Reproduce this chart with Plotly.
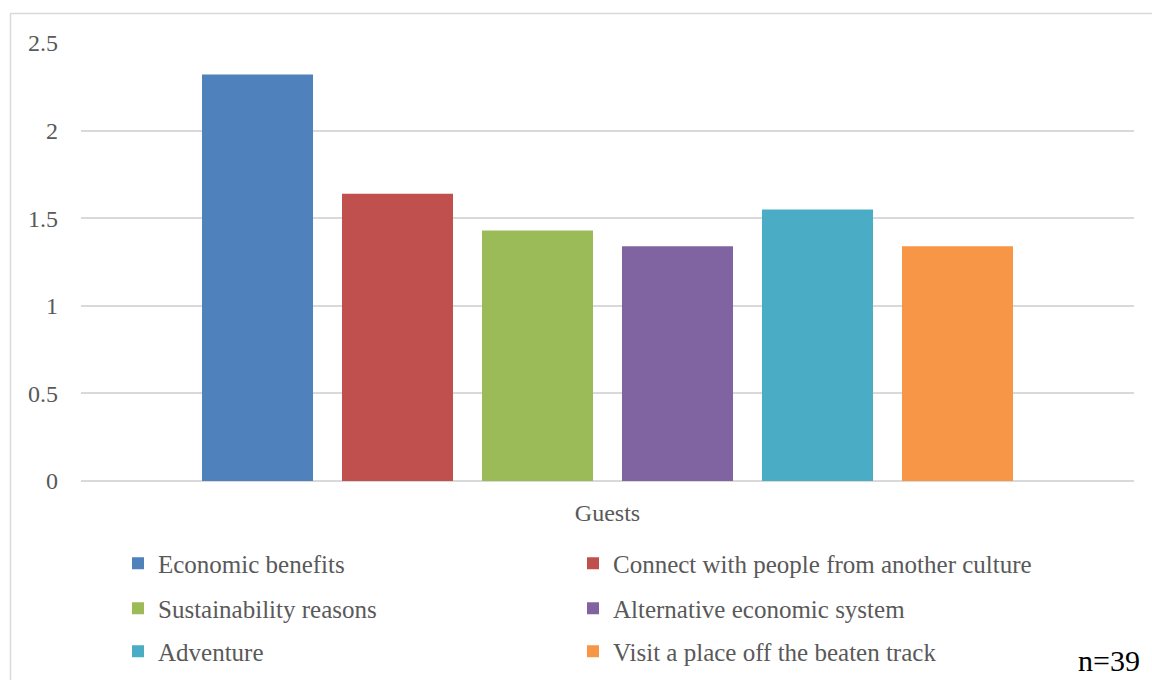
import plotly.graph_objects as go

categories = ["Guests"]
series_names = [
    "Economic benefits",
    "Connect with people from another culture",
    "Sustainability reasons",
    "Alternative economic system",
    "Adventure",
    "Visit a place off the beaten track",
]
series_values = [2.32, 1.64, 1.43, 1.34, 1.55, 1.34]
series_colors = ["#4F81BD", "#C0504D", "#9BBB59", "#8064A2", "#4BACC6", "#F79646"]
y_ticks = [0, 0.5, 1, 1.5, 2, 2.5]
y_tick_labels = ["0", "0.5", "1", "1.5", "2", "2.5"]
note = "n=39"

FONT = "Liberation Serif"
W, H = 1152, 680
L, R, T, B = 81, W - 1134, 43, H - 481

legend_ids = ["legend", "legend2", "legend3", "legend4", "legend5", "legend6"]

fig = go.Figure()
for name, val, col, lg in zip(series_names, series_values, series_colors, legend_ids):
    fig.add_trace(go.Bar(
        x=categories, y=[val], name=name,
        marker=dict(color=col, line=dict(width=0)),
        legend=lg,
    ))

row_y = [563.5, 608.5, 651.5]
col_x = [118, 573]
leg_common = dict(
    orientation="h", xref="container", yref="container",
    xanchor="left", yanchor="middle",
    font=dict(family=FONT, size=25, color="#595959"),
    bgcolor="rgba(0,0,0,0)", borderwidth=0,
)
legend_layout = {}
for i, lg in enumerate(legend_ids):
    r, c = divmod(i, 2)
    legend_layout[lg] = dict(x=col_x[c] / W, y=1 - row_y[r] / H, **leg_common)
fig.update_layout(**legend_layout)

fig.update_layout(
    width=W, height=H,
    margin=dict(l=L, r=R, t=T, b=B, pad=0),
    paper_bgcolor="white", plot_bgcolor="white",
    barmode="group", bargap=0.2023, bargroupgap=0.207,
    showlegend=True,
    font=dict(family=FONT, color="#595959"),
    xaxis=dict(
        showgrid=False, showline=False, zeroline=False, ticks="",
        tickfont=dict(family=FONT, size=24, color="#595959"),
        ticklabelstandoff=15,
    ),
    yaxis=dict(
        range=[0, 2.5], tickvals=y_ticks, ticktext=y_tick_labels,
        showgrid=True, gridcolor="#d9d9d9", gridwidth=1.5,
        zeroline=True, zerolinecolor="#d9d9d9", zerolinewidth=1.5,
        showline=False, ticks="",
        tickfont=dict(family=FONT, size=24, color="#595959"),
        ticklabelstandoff=22,
    ),
    shapes=[dict(
        type="rect", xref="paper", yref="paper",
        x0=(10.5 - L) / 1053, x1=1.2, y0=-0.6, y1=(481 - 13.5) / 438,
        line=dict(color="#d9d9d9", width=1.5), fillcolor="rgba(0,0,0,0)",
        layer="below",
    )],
    annotations=[dict(
        text=note, xref="paper", yref="paper",
        x=(1142 - L) / 1053, y=(481 - 661) / 438,
        xanchor="right", yanchor="middle", showarrow=False,
        font=dict(family=FONT, size=30, color="black"),
    )],
)

fig.write_html("out.html")
